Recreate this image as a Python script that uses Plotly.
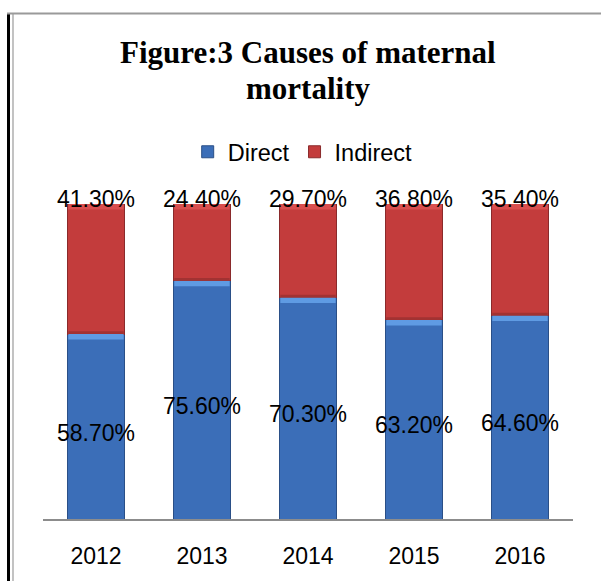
import plotly.graph_objects as go

# ---- data ----
years = ["2012", "2013", "2014", "2015", "2016"]
direct = [58.7, 75.6, 70.3, 63.2, 64.6]
indirect = [41.3, 24.4, 29.7, 36.8, 35.4]
title_lines = ["Figure:3 Causes of maternal", "mortality"]

# ---- geometry / style ----
W, H = 601, 581
L, R, T, B = 43, 28, 204, 62
PW, PH = W - L - R, H - T - B
BARGAP = 0.47
HALF = (1 - BARGAP) / 2
UNIT_PX = PH / 100.0  # pixels per percentage point


def px_x(x):
    return (x - L) / PW


def px_y(y):
    return (H - B - y) / PH


BLUE, BLUE_EDGE, BLUE_HI = "#3b6eb8", "#2a4f87", "#5f9be3"
RED, RED_EDGE, RED_HI, RED_LO = "#c33c3c", "#8a2a2b", "#d94f4f", "#a23232"
LABEL_FONT = dict(family="Liberation Sans, Arial, sans-serif", size=23, color="#000000")

fig = go.Figure()
fig.add_bar(name="Direct", x=years, y=direct,
            marker=dict(color=BLUE, line=dict(color=BLUE_EDGE, width=1)))
fig.add_bar(name="Indirect", x=years, y=indirect,
            marker=dict(color=RED, line=dict(color=RED_EDGE, width=1)))

annotations = []
# title
TITLE_FONT = dict(family="Liberation Serif, Times New Roman, serif", size=31, color="#000")
annotations.append(dict(text=f"<b>{title_lines[0]}</b>", x=0.5, y=px_y(53), xref="paper", yref="paper",
                        xanchor="center", yanchor="middle", showarrow=False, font=TITLE_FONT))
annotations.append(dict(text=f"<b>{title_lines[1]}</b>", x=0.5, y=px_y(89), xref="paper", yref="paper",
                        xanchor="center", yanchor="middle", showarrow=False, font=TITLE_FONT))
# data labels (category index positions on the category axis)
for k, (d, i) in enumerate(zip(direct, indirect)):
    annotations.append(dict(text=f"{d:.2f}%", x=k, y=d / 2, xref="x", yref="y",
                            xanchor="center", yanchor="middle", yshift=-6, showarrow=False, font=LABEL_FONT))
    annotations.append(dict(text=f"{i:.2f}%", x=k, y=d + i, xref="x", yref="y",
                            xanchor="center", yanchor="middle", yshift=5, showarrow=False, font=LABEL_FONT))

shapes = [
    # outer frame: black left rule, thin grey inner rule, grey top rule
    dict(type="line", xref="paper", yref="paper", x0=px_x(8.5), x1=px_x(8.5), y0=px_y(14), y1=px_y(600),
         line=dict(color="#000000", width=3)),
    dict(type="line", xref="paper", yref="paper", x0=px_x(13), x1=px_x(13), y0=px_y(14), y1=px_y(600),
         line=dict(color="#9a9a9a", width=1.2)),
    dict(type="line", xref="paper", yref="paper", x0=px_x(7), x1=px_x(620), y0=px_y(13.5), y1=px_y(13.5),
         line=dict(color="#9a9a9a", width=2)),
]
# bevel highlights on each segment (derived from the data values)
band = 5.5 / UNIT_PX
for k, (d, i) in enumerate(zip(direct, indirect)):
    x0, x1 = k - HALF + 0.004, k + HALF - 0.004
    shapes.append(dict(type="rect", xref="x", yref="y", x0=x0, x1=x1, y0=d - band, y1=d,
                       fillcolor=BLUE_HI, line=dict(width=0), layer="above"))
    shapes.append(dict(type="rect", xref="x", yref="y", x0=x0, x1=x1, y0=d + i - band, y1=d + i,
                       fillcolor=RED_HI, line=dict(width=0), layer="above"))
    shapes.append(dict(type="rect", xref="x", yref="y", x0=x0, x1=x1, y0=d, y1=d + band * 0.5,
                       fillcolor=RED_LO, line=dict(width=0), layer="above"))

fig.update_layout(
    width=W, height=H, autosize=False,
    margin=dict(l=L, r=R, t=T, b=B, pad=0),
    paper_bgcolor="white", plot_bgcolor="white",
    barmode="stack", bargap=BARGAP,
    showlegend=True,
    legend=dict(orientation="h", x=0.49, xanchor="center", y=px_y(152), yanchor="middle",
                font=dict(family="Liberation Sans, Arial, sans-serif", size=23.5, color="#000"),
                traceorder="normal", itemclick=False, itemdoubleclick=False),
    xaxis=dict(type="category", range=[-0.5, len(years) - 0.5], showline=True, linecolor="#8c8c8c",
               linewidth=1.5, showgrid=False, zeroline=False, ticks="",
               tickfont=dict(family="Liberation Sans, Arial, sans-serif", size=23, color="#000"),
               ticklabelstandoff=16, fixedrange=True),
    yaxis=dict(range=[0, 100], visible=False, fixedrange=True),
    annotations=annotations,
    shapes=shapes,
    hovermode=False,
)

fig.write_html("out.html", config={"displayModeBar": False},
               post_script="document.body.style.margin='0';document.body.style.overflow='hidden';")
